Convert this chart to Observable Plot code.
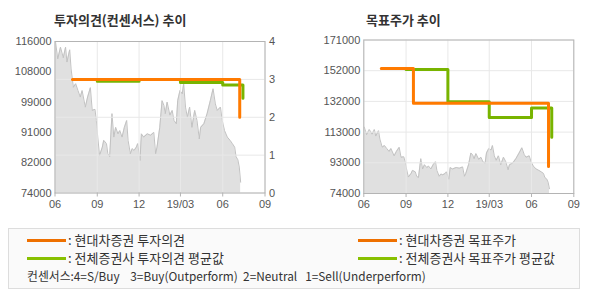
<!DOCTYPE html>
<html><head><meta charset="utf-8">
<script src="https://cdn.jsdelivr.net/npm/d3@7"></script>
<script src="https://cdn.jsdelivr.net/npm/@observablehq/plot@0.6"></script>
<style>
body{margin:0;background:#fff;width:590px;height:300px;position:relative;overflow:hidden;font-family:"Noto Sans CJK KR",sans-serif}
.title{position:absolute;top:11px;font-size:13px;font-weight:bold;color:#333;line-height:18px;white-space:pre}
#c1,#c2{position:absolute;top:0}
#c1{left:0}#c2{left:295px}
#legend{position:absolute;left:8px;top:228px;width:572px;height:61px;border:1px solid #ddd;background:#fafafa;box-sizing:border-box}
.row{position:absolute;font-size:13px;color:#333;line-height:16px;white-space:pre}
.note{position:absolute;font-size:12px;color:#333;line-height:16px;white-space:pre;transform-origin:0 50%;display:inline-block}
.sw{position:absolute;height:3px;width:39px}
</style></head>
<body>
<div class="title" style="left:54px">투자의견(컨센서스) 추이</div>
<div class="title" style="left:366px">목표주가 추이</div>
<div id="c1"></div><div id="c2"></div>
<div id="legend"></div>
<script>
// ---- data ----
const monthTicks = ["2018-06-01","2018-09-01","2018-12-01","2019-03-01","2019-06-01","2019-09-01"];
const monthLabels = ["06","09","12","19/03","06","09"];

const priceDates = ["2018-06-02","2018-06-07","2018-06-13","2018-06-19","2018-06-24","2018-06-27","2018-07-03","2018-07-06","2018-07-11","2018-07-16","2018-07-21","2018-07-26","2018-07-30","2018-08-06","2018-08-11","2018-08-17","2018-08-21","2018-08-27","2018-08-30","2018-09-02","2018-09-06","2018-09-12","2018-09-15","2018-09-21","2018-09-24","2018-09-28","2018-10-03","2018-10-07","2018-10-11","2018-10-16","2018-10-20","2018-10-25","2018-10-30","2018-11-04","2018-11-07","2018-11-12","2018-11-16","2018-11-20","2018-11-25","2018-11-28","2018-12-03","2018-12-06","2018-12-11","2018-12-19","2018-12-26","2019-01-02","2019-01-06","2019-01-09","2019-01-15","2019-01-20","2019-01-24","2019-01-27","2019-01-31","2019-02-06","2019-02-11","2019-02-15","2019-02-20","2019-02-23","2019-02-28","2019-03-05","2019-03-08","2019-03-12","2019-03-16","2019-03-21","2019-03-26","2019-04-01","2019-04-06","2019-04-11","2019-04-14","2019-04-21","2019-04-28","2019-05-05","2019-05-11","2019-05-16","2019-05-20","2019-05-27","2019-05-31","2019-06-05","2019-06-11","2019-06-17","2019-06-22","2019-06-27","2019-06-30","2019-07-04","2019-07-07","2019-07-10"];
const priceValues = [116000,111200,114400,111500,114400,110300,113700,108400,103300,104300,102400,100600,102400,97800,100600,103200,96900,97200,94100,89500,84400,86700,88600,87700,84900,84100,96000,89500,92200,90400,91300,89500,92200,94100,88600,84900,86300,85800,86700,87700,83000,90400,89500,90400,90000,90800,84900,86700,92200,99600,98300,96000,99200,95600,96900,94100,93200,99600,102400,101500,104300,97800,95000,97800,92200,96900,94100,89000,92200,93200,96000,99600,102900,98700,96900,97800,94100,91300,89500,88600,87700,86700,84100,83200,81200,77000];

const opinionDates = ["2018-07-09","2019-07-08"];
const opinionValues = [3, 2];
const avgOpinionDates = ["2018-09-01","2018-12-01","2019-03-01","2019-06-01","2019-07-15"];
const avgOpinionValues = [2.95, 3.0, 2.92, 2.85, 2.5];

const targetDates = ["2018-07-09","2018-09-17","2019-07-08"];
const targetValues = [153000, 131000, 91000];
const avgTargetDates = ["2018-09-01","2018-12-01","2019-03-01","2019-06-01","2019-07-15"];
const avgTargetValues = [152400, 132000, 122000, 128000, 109500];

const opinionTicks = [0,1,2,3,4];
const leftPriceLabels = ["74000","82000","91000","99000","108000","116000"];
const targetLabels = ["74000","93000","113000","132000","152000","171000"];

const ORANGE = "#FF7A00", GREEN = "#78B400";

// ---- helpers ----
const xT = monthTicks.map(d => new Date(d));
const xLab = d => monthLabels[xT.findIndex(t => +t === +d)];
const series = (ds, vs) => ds.map((d, i) => ({date: new Date(d), v: vs[i]}));
const price = series(priceDates, priceValues);

function evenTicks(lo, hi, n){ return d3.range(n).map(k => lo + (hi - lo) * k / (n - 1)); }

const baseStyle = {fontFamily:"'Liberation Sans', Arial, sans-serif", fontSize:"11px", color:"#555", background:"transparent", overflow:"visible"};

// ---- left chart ----
{
  const lo = 74000, hi = 116000;
  const toY = v => lo + v * (hi - lo) / 4;
  const lt = evenTicks(lo, hi, leftPriceLabels.length);
  const ltLab = d => leftPriceLabels[lt.findIndex(t => Math.abs(t - d) < 1)];
  const op = series(opinionDates, opinionValues).map(d => ({date: d.date, v: toY(d.v)}));
  const avgOp = series(avgOpinionDates, avgOpinionValues).map(d => ({date: d.date, v: toY(d.v)}));
  const opT = opinionTicks.map(toY);
  const opLab = d => String(opinionTicks[opT.findIndex(t => Math.abs(t - d) < 1)]);
  const chart = Plot.plot({
    width: 295, height: 215, marginLeft: 54.5, marginRight: 30.5, marginTop: 41, marginBottom: 22.5,
    style: baseStyle,
    x: {type: "utc", domain: [xT[0], xT[xT.length - 1]], axis: null},
    y: {domain: [lo, hi], axis: null},
    marks: [
      Plot.areaY(price, {x: "date", y1: lo, y2: "v", fill: "#e0e0e0"}),
      Plot.lineY(price, {x: "date", y: "v", stroke: "#c2c2c2", strokeWidth: 1}),
      Plot.gridX(xT, {stroke: "#e8e8e8", strokeOpacity: 1}),
      Plot.gridY(opT, {stroke: "#e8e8e8", strokeOpacity: 1}),
      Plot.line(avgOp, {x: "date", y: "v", stroke: GREEN, strokeWidth: 3, curve: "step-after"}),
      Plot.line(op, {x: "date", y: "v", stroke: ORANGE, strokeWidth: 3, curve: "step-after"}),
      Plot.frame({stroke: "#b4b4b4"}),
      Plot.axisX(xT, {tickFormat: xLab, tickSize: 4, tickPadding: 3, stroke: "#b4b4b4", label: null}),
      Plot.axisY(lt, {anchor: "left", tickFormat: ltLab, tickSize: 0, tickPadding: 3.5, label: null}),
      Plot.axisY(opT, {anchor: "right", tickFormat: opLab, tickSize: 0, tickPadding: 4, label: null})
    ]
  });
  document.getElementById("c1").append(chart);
}

// ---- right chart ----
{
  const lo = 74000, hi = 171000;
  const rt = evenTicks(lo, hi, targetLabels.length);
  const rtLab = d => targetLabels[rt.findIndex(t => Math.abs(t - d) < 1)];
  const tg = series(targetDates, targetValues);
  const avgTg = series(avgTargetDates, avgTargetValues);
  const chart = Plot.plot({
    width: 295, height: 215, marginLeft: 68.3, marginRight: 16.7, marginTop: 39.5, marginBottom: 22,
    style: baseStyle,
    x: {type: "utc", domain: [xT[0], xT[xT.length - 1]], axis: null},
    y: {domain: [lo, hi], axis: null},
    marks: [
      Plot.areaY(price, {x: "date", y1: lo, y2: "v", fill: "#e0e0e0"}),
      Plot.lineY(price, {x: "date", y: "v", stroke: "#c2c2c2", strokeWidth: 1}),
      Plot.gridX(xT, {stroke: "#e8e8e8", strokeOpacity: 1}),
      Plot.gridY(rt, {stroke: "#e8e8e8", strokeOpacity: 1}),
      Plot.line(avgTg, {x: "date", y: "v", stroke: GREEN, strokeWidth: 3, curve: "step-after"}),
      Plot.line(tg, {x: "date", y: "v", stroke: ORANGE, strokeWidth: 3, curve: "step-after"}),
      Plot.frame({stroke: "#b4b4b4"}),
      Plot.axisX(xT, {tickFormat: xLab, tickSize: 4, tickPadding: 3, stroke: "#b4b4b4", label: null}),
      Plot.axisY(rt, {anchor: "left", tickFormat: rtLab, tickSize: 0, tickPadding: 3.5, label: null})
    ]
  });
  document.getElementById("c2").append(chart);
}

// ---- legend ----
const legendItems = [
  {label: ": 현대차증권 투자의견", color: "#EE7000", col: 0, row: 0},
  {label: ": 전체증권사 투자의견 평균값", color: "#88C000", col: 0, row: 1},
  {label: ": 현대차증권 목표주가", color: "#EE7000", col: 1, row: 0},
  {label: ": 전체증권사 목표주가 평균값", color: "#88C000", col: 1, row: 1}
];
const legendNote = "컨센서스:4=S/Buy    3=Buy(Outperform)  2=Neutral   1=Sell(Underperform)";
const lg = document.getElementById("legend");
const colX = [18, 349], rowY = [11.3, 29];
legendItems.forEach(it => {
  const sw = document.createElement("div");
  sw.className = "sw"; sw.style.background = it.color;
  sw.style.left = colX[it.col] + "px"; sw.style.top = (rowY[it.row] - 1.5) + "px";
  lg.append(sw);
  const t = document.createElement("div");
  t.className = "row"; t.textContent = it.label;
  t.style.left = (colX[it.col] + 41) + "px"; t.style.top = (rowY[it.row] - 8) + "px";
  lg.append(t);
});
const note = document.createElement("span");
note.className = "note"; note.textContent = legendNote;
note.style.left = "18px"; note.style.top = (47.3 - 8) + "px";
lg.append(note);
function fitNote(){
  note.style.transform = "none";
  const nw = note.scrollWidth || note.getBoundingClientRect().width;
  if (nw > 0) note.style.transform = "scaleX(" + (399 / nw) + ")";
}
fitNote();
if (document.fonts && document.fonts.ready) document.fonts.ready.then(fitNote);
</script>
</body></html>
